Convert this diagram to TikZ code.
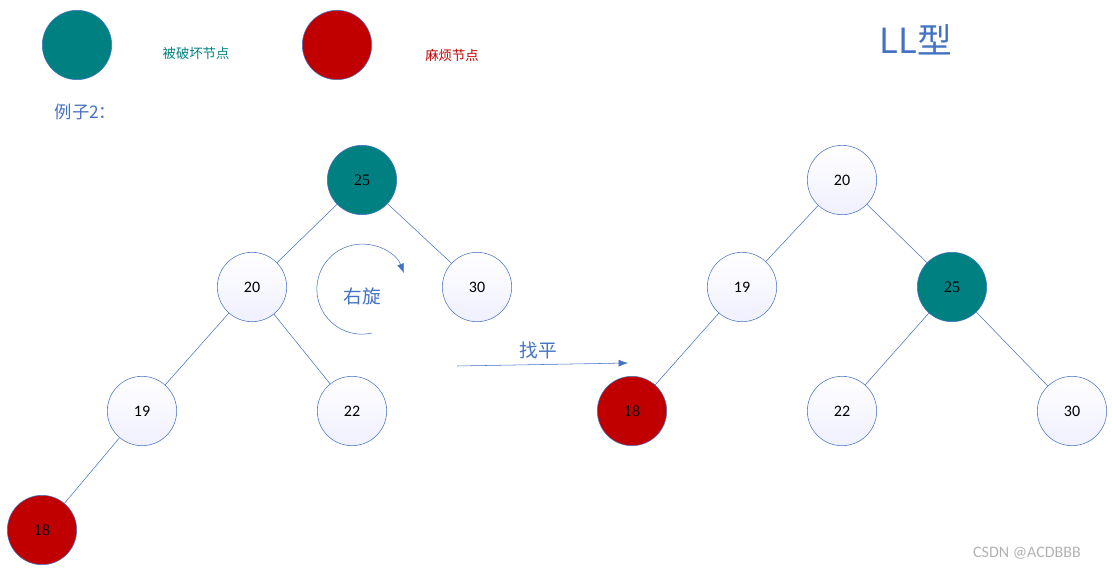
\documentclass[tikz,border=0pt]{standalone}
\usepackage{fontspec}
\usetikzlibrary{arrows.meta}
\setmainfont{Carlito}
\newfontfamily\cjk{Noto Sans CJK SC}
\newfontfamily\serifnum{Liberation Serif}
\definecolor{teal0}{RGB}{0,128,128}
\definecolor{red0}{RGB}{192,0,0}
\definecolor{line0}{RGB}{68,114,196}
\tikzset{
    tree-node/.style = {circle, draw=line0, minimum size=52pt, inner sep=0pt, top color=white, bottom color=blue!6, font=\fontsize{12}{14}\selectfont},
    bad-node/.style = {circle, draw=line0, minimum size=52pt, inner sep=0pt, fill=teal0, font=\serifnum\fontsize{12}{14}\selectfont},
    trouble-node/.style = {circle, draw=line0, minimum size=52pt, inner sep=0pt, fill=red0, font=\serifnum\fontsize{12}{14}\selectfont},
    edge/.style = {draw=line0, thin},
}
\begin{document}
\begin{tikzpicture}[x=0.75pt, y=-0.75pt]
\useasboundingbox (0,0) rectangle (1112,574);
% legend
\node[bad-node, minimum size=52pt] (legbad) at (77,45) {};
\node[text=teal0, font=\cjk\fontsize{10}{12}\selectfont] (legbadtxt) at (196,53) {被破坏节点};
\node[trouble-node, minimum size=52pt] (legred) at (337,45) {};
\node[text=red0, font=\cjk\fontsize{10}{12}\selectfont] (legredtxt) at (452,55) {麻烦节点};
\node[text=line0, font=\cjk\fontsize{26}{30}\selectfont] (title) at (916,40) {LL型};
\node[text=line0, font=\cjk\fontsize{13}{15}\selectfont, anchor=west] (example) at (50,112) {例子2：};

% left tree
\node[bad-node] (a25) at (362,180) {25};
\node[tree-node] (a20) at (252,287) {20};
\node[tree-node] (a30) at (477,287) {30};
\node[tree-node] (a19) at (142,411) {19};
\node[tree-node] (a22) at (352,411) {22};
\node[trouble-node] (a18) at (42,530) {18};
\draw[edge] (a25) -- (a20);
\draw[edge] (a25) -- (a30);
\draw[edge] (a20) -- (a19);
\draw[edge] (a20) -- (a22);
\draw[edge] (a19) -- (a18);

% rotation
\draw[line0, -{Latex[length=7pt]}] (372,333) arc[start angle=77, end angle=339, radius=45];
\node[text=line0, font=\cjk\fontsize{14}{16}\selectfont] (rotate) at (362,296) {右旋};

% middle arrow
\coordinate (arrfrom) at (457,366);
\coordinate (arrto) at (628,363);
\draw[line0, -{Latex[length=7pt]}] (arrfrom) -- (arrto);
\node[text=line0, font=\cjk\fontsize{14}{16}\selectfont] (balance) at (538,350) {找平};

% right tree
\node[tree-node] (b20) at (842,180) {20};
\node[tree-node] (b19) at (742,287) {19};
\node[bad-node] (b25) at (952,287) {25};
\node[trouble-node] (b18) at (632,411) {18};
\node[tree-node] (b22) at (842,411) {22};
\node[tree-node] (b30) at (1072,411) {30};
\draw[edge] (b20) -- (b19);
\draw[edge] (b20) -- (b25);
\draw[edge] (b19) -- (b18);
\draw[edge] (b25) -- (b22);
\draw[edge] (b25) -- (b30);

\node[text=black!30, font=\fontsize{12}{14}\selectfont] (mark) at (1027,553) {CSDN @ACDBBB};
\end{tikzpicture}
\end{document}
